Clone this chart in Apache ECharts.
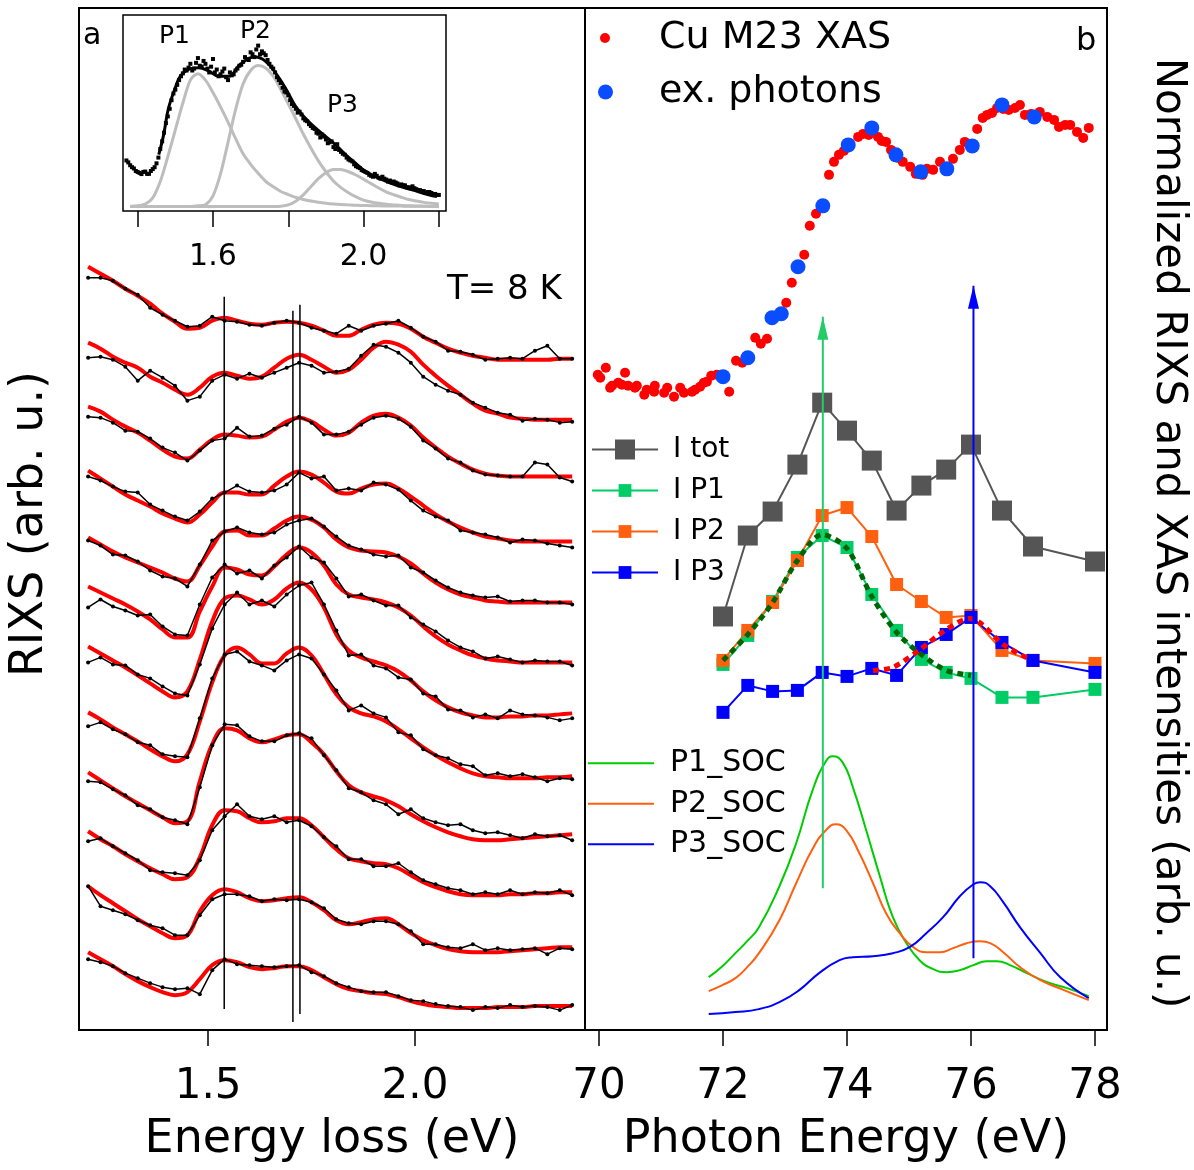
<!DOCTYPE html>
<html>
<head>
<meta charset="utf-8">
<script src="https://cdn.jsdelivr.net/npm/echarts@6/dist/echarts.min.js"></script>
<style>
  html, body { margin: 0; padding: 0; background: #fff; }
  #chart { width: 1194px; height: 1170px; }
</style>
</head>
<body>
<div id="chart"></div>
<script>
// ---- panel a: RIXS spectra (energy loss, eV) ----
const lossGrid = [1.21, 1.24, 1.27, 1.30, 1.33, 1.36, 1.39, 1.42, 1.45, 1.48, 1.51, 1.54, 1.57, 1.60, 1.63, 1.66, 1.69, 1.72, 1.75, 1.78,
  1.81, 1.84, 1.87, 1.90, 1.93, 1.96, 1.99, 2.02, 2.05, 2.08, 2.11, 2.14, 2.17, 2.20, 2.23, 2.26, 2.29, 2.32, 2.35, 2.38]

// fitted curves, top spectrum first (stacked, arb. u.)
const rixsFit = [
  [76.4, 75.7, 75.0, 74.2, 73.5, 72.7, 71.7, 70.9, 70.2, 70.3, 71.0, 71.3, 71.0, 70.7, 70.6, 70.8, 70.9, 70.8, 70.5, 70.0, 69.5, 69.5, 70.1, 70.6, 70.8, 70.7, 70.2, 69.4, 68.8, 68.2, 67.8, 67.5, 67.3, 67.1, 67.1, 67.1, 67.1, 67.1, 67.2, 67.2],
  [68.8, 68.2, 67.4, 66.8, 66.3, 65.4, 64.8, 64.1, 63.6, 64.3, 65.4, 65.8, 65.5, 65.2, 65.4, 66.3, 67.2, 67.6, 67.1, 66.4, 65.8, 66.1, 67.1, 68.3, 68.9, 68.6, 67.9, 66.6, 65.5, 64.5, 63.6, 62.7, 62.0, 61.7, 61.3, 61.2, 61.1, 61.1, 61.1, 61.1],
  [62.4, 61.9, 61.1, 60.4, 59.8, 59.0, 58.1, 57.4, 57.2, 58.1, 59.1, 59.6, 59.5, 59.3, 59.4, 60.1, 60.9, 61.3, 60.9, 60.1, 59.5, 59.8, 60.8, 61.5, 61.7, 61.3, 60.5, 59.3, 58.3, 57.4, 56.7, 56.1, 55.7, 55.5, 55.4, 55.4, 55.4, 55.4, 55.4, 55.4],
  [56.0, 55.2, 54.4, 53.6, 53.0, 52.4, 51.7, 51.2, 50.8, 51.6, 52.8, 53.8, 53.8, 53.6, 53.6, 54.5, 55.4, 55.9, 55.6, 54.8, 53.9, 53.7, 54.2, 54.6, 54.7, 54.2, 53.4, 52.5, 51.6, 50.9, 50.3, 49.8, 49.4, 49.2, 49.0, 48.9, 48.9, 48.9, 48.9, 48.9],
  [49.3, 48.6, 47.9, 47.3, 46.8, 46.3, 45.8, 45.2, 44.9, 46.5, 48.4, 49.9, 50.0, 49.5, 49.5, 50.2, 51.0, 51.4, 51.1, 50.3, 49.1, 48.3, 48.0, 47.9, 47.8, 47.4, 46.7, 45.7, 44.8, 44.1, 43.6, 43.3, 43.0, 42.9, 42.8, 42.8, 42.8, 42.8, 42.8, 42.8],
  [44.4, 43.8, 43.2, 42.6, 41.9, 41.1, 40.1, 39.3, 39.3, 41.9, 44.4, 46.3, 46.1, 45.6, 45.5, 46.4, 47.6, 48.3, 47.8, 46.5, 44.6, 43.6, 43.3, 43.1, 42.8, 42.3, 41.5, 40.4, 39.4, 38.6, 38.0, 37.5, 37.2, 37.0, 36.9, 36.8, 36.8, 36.8, 36.8, 36.8],
  [38.4, 37.7, 37.0, 36.3, 35.5, 34.7, 33.9, 33.3, 33.9, 37.1, 40.9, 43.2, 43.5, 43.1, 42.6, 43.1, 44.2, 44.8, 44.1, 42.3, 39.6, 38.0, 37.3, 36.9, 36.5, 35.9, 35.0, 33.9, 33.0, 32.3, 31.8, 31.5, 31.3, 31.3, 31.4, 31.4, 31.5, 31.5, 31.6, 31.7],
  [31.8, 31.1, 30.3, 29.6, 28.9, 28.1, 27.4, 26.9, 27.6, 30.9, 34.8, 37.5, 38.3, 37.6, 36.7, 36.7, 37.7, 38.3, 37.5, 35.6, 33.6, 32.3, 31.7, 31.4, 30.9, 30.1, 29.2, 28.3, 27.5, 26.8, 26.2, 25.7, 25.4, 25.3, 25.2, 25.2, 25.2, 25.3, 25.3, 25.4],
  [25.8, 25.0, 24.2, 23.4, 22.7, 22.0, 21.3, 20.7, 20.9, 24.9, 28.6, 30.2, 30.0, 29.2, 28.8, 29.1, 29.5, 29.6, 28.8, 27.6, 25.9, 24.5, 23.8, 23.4, 23.0, 22.4, 21.6, 20.9, 20.3, 19.8, 19.4, 19.1, 19.0, 19.0, 19.1, 19.2, 19.3, 19.4, 19.5, 19.6],
  [19.9, 19.1, 18.4, 17.6, 16.9, 16.2, 15.6, 15.1, 15.3, 17.3, 20.5, 22.0, 21.9, 21.2, 20.8, 20.9, 21.2, 21.2, 20.5, 19.3, 18.1, 17.2, 16.9, 16.7, 16.6, 16.2, 15.5, 14.8, 14.3, 13.9, 13.6, 13.5, 13.5, 13.5, 13.6, 13.6, 13.7, 13.7, 13.8, 13.8],
  [14.4, 13.5, 12.7, 11.9, 11.1, 10.4, 9.7, 9.2, 9.5, 11.9, 13.5, 14.1, 13.8, 13.2, 12.9, 13.0, 13.2, 13.3, 12.8, 12.0, 11.0, 10.6, 10.8, 11.1, 11.2, 10.6, 9.7, 9.0, 8.5, 8.1, 7.9, 7.8, 7.8, 7.8, 7.9, 8.0, 8.1, 8.2, 8.3, 8.3],
  [7.8, 7.1, 6.4, 5.6, 4.9, 4.3, 3.8, 3.5, 3.8, 5.1, 6.5, 7.0, 6.8, 6.3, 6.1, 6.2, 6.4, 6.4, 6.0, 5.3, 4.6, 4.1, 3.9, 3.7, 3.6, 3.3, 2.9, 2.6, 2.4, 2.3, 2.2, 2.2, 2.2, 2.3, 2.3, 2.3, 2.4, 2.4, 2.4, 2.4]
]

// measured spectra on the same grid
const rixsData = [
  [75.3, 75.3, 75.0, 74.2, 73.6, 72.3, 71.6, 71.0, 70.4, 70.5, 71.4, 71.0, 70.9, 70.6, 70.5, 70.8, 71.0, 70.8, 70.3, 70.0, 69.7, 70.5, 70.0, 70.5, 70.7, 71.0, 70.3, 69.4, 68.9, 68.0, 67.9, 67.6, 67.1, 67.2, 67.3, 67.2, 68.0, 68.5, 67.2, 67.2],
  [67.3, 67.4, 67.1, 66.4, 65.0, 66.0, 65.3, 64.5, 63.0, 63.4, 65.0, 65.6, 65.2, 65.7, 65.3, 65.8, 66.3, 66.8, 66.5, 65.8, 65.9, 66.2, 67.5, 68.6, 68.4, 67.8, 66.8, 65.4, 64.6, 64.0, 63.6, 62.8, 62.3, 61.8, 61.6, 61.0, 61.2, 61.1, 60.8, 60.9],
  [61.4, 61.3, 60.8, 60.0, 59.9, 59.2, 58.3, 57.8, 57.0, 58.0, 59.0, 59.2, 60.3, 59.4, 59.5, 60.2, 60.6, 61.4, 60.8, 59.6, 59.6, 59.9, 60.6, 61.3, 61.5, 61.2, 60.4, 59.0, 58.2, 57.2, 56.8, 56.0, 55.6, 55.5, 55.4, 55.4, 56.8, 56.6, 55.3, 54.9],
  [55.4, 55.0, 54.4, 53.9, 53.8, 52.6, 52.0, 51.4, 51.0, 51.9, 53.2, 53.8, 54.5, 53.9, 53.8, 54.0, 54.6, 55.8, 55.2, 55.4, 54.0, 54.2, 54.0, 54.8, 54.6, 54.1, 53.0, 52.0, 51.4, 51.0, 50.0, 49.8, 49.6, 49.3, 48.8, 49.1, 49.0, 48.7, 48.5, 48.3],
  [49.0, 48.5, 47.6, 47.5, 46.9, 46.0, 45.4, 45.2, 44.4, 46.6, 49.0, 49.9, 50.3, 49.8, 49.6, 49.8, 50.6, 51.0, 51.2, 50.4, 49.4, 48.5, 48.1, 47.6, 47.4, 47.5, 46.3, 45.8, 45.0, 44.3, 43.8, 43.5, 43.3, 43.4, 42.9, 43.0, 43.0, 42.8, 42.8, 42.6],
  [42.3, 43.1, 42.4, 42.0, 41.5, 41.6, 40.4, 39.6, 39.5, 42.6, 45.3, 46.6, 45.7, 46.0, 45.2, 46.5, 47.3, 48.4, 47.3, 46.8, 45.2, 43.4, 43.6, 43.0, 42.5, 42.5, 41.3, 40.6, 39.9, 39.0, 38.3, 37.9, 37.2, 37.4, 37.1, 36.8, 37.0, 36.9, 36.9, 36.5],
  [36.8, 37.3, 36.6, 36.5, 35.6, 35.2, 34.4, 33.7, 33.5, 36.6, 40.2, 42.6, 43.8, 42.6, 43.0, 42.4, 43.6, 44.5, 44.8, 42.6, 40.0, 37.5, 37.6, 36.5, 36.2, 35.3, 35.1, 33.7, 33.4, 32.1, 32.0, 31.3, 31.6, 31.2, 32.0, 31.6, 31.5, 31.3, 31.0, 31.2],
  [30.4, 30.8, 30.1, 29.6, 28.8, 28.5, 27.6, 27.4, 27.3, 31.2, 35.2, 37.6, 37.9, 36.9, 36.5, 36.0, 37.0, 37.6, 37.2, 35.6, 34.0, 32.0, 32.5, 31.7, 31.3, 29.8, 29.5, 28.1, 27.5, 27.2, 26.6, 26.4, 25.5, 25.7, 25.4, 25.6, 25.3, 24.9, 25.2, 25.1],
  [24.9, 24.8, 24.1, 23.5, 22.5, 22.1, 21.3, 21.0, 20.6, 24.3, 28.5, 30.6, 30.5, 29.4, 28.9, 28.9, 29.5, 29.7, 29.2, 27.5, 26.0, 24.2, 23.8, 23.0, 22.6, 21.6, 22.1, 21.2, 20.8, 20.5, 20.6, 20.0, 19.7, 19.8, 19.5, 19.2, 19.6, 19.4, 19.5, 19.0],
  [18.9, 19.2, 18.4, 17.7, 17.0, 16.0, 15.8, 15.7, 15.5, 17.0, 20.0, 21.4, 22.6, 21.4, 21.1, 21.4, 20.8, 21.0, 20.4, 19.3, 18.4, 17.1, 17.1, 16.4, 16.4, 16.7, 15.8, 15.0, 14.6, 14.2, 14.0, 13.6, 13.8, 13.6, 14.0, 13.6, 13.8, 13.7, 14.0, 13.5],
  [14.4, 12.4, 12.0, 11.6, 11.0, 10.5, 10.2, 9.5, 9.5, 11.5, 13.1, 13.6, 13.6, 13.4, 12.9, 13.1, 13.0, 13.1, 12.8, 12.2, 11.1, 10.7, 10.6, 10.9, 10.9, 10.6, 9.9, 8.6, 8.6, 8.3, 8.2, 8.6, 8.0, 8.2, 8.0, 8.1, 8.2, 7.6, 8.2, 8.1],
  [7.1, 6.8, 6.4, 5.7, 5.2, 4.7, 4.3, 4.1, 4.2, 3.6, 6.0, 7.1, 6.6, 6.5, 6.4, 6.3, 6.4, 6.5, 5.8, 5.4, 4.7, 4.3, 3.9, 3.8, 3.8, 3.4, 3.0, 2.9, 2.6, 2.4, 2.3, 2.0, 2.3, 2.2, 2.5, 2.3, 2.4, 2.3, 2.0, 2.5]
]

// vertical guide lines (eV) and their extent
const markerLoss = [1.539, 1.705, 1.722]
const markerTop = [73.4, 72.0, 72.6]
const markerBottom = [2.1, 0.8, 1.6]

// ---- inset: fitted spectrum ----
const insetE = [1.37, 1.38, 1.39, 1.40, 1.41, 1.42, 1.43, 1.44, 1.45, 1.46, 1.47, 1.48, 1.49, 1.50, 1.51, 1.52, 1.53, 1.54, 1.55, 1.56,
  1.57, 1.58, 1.59, 1.60, 1.61, 1.62, 1.63, 1.64, 1.65, 1.66, 1.67, 1.68, 1.69, 1.70, 1.71, 1.72, 1.73, 1.74, 1.75, 1.76,
  1.77, 1.78, 1.79, 1.80, 1.81, 1.82, 1.83, 1.84, 1.85, 1.86, 1.87, 1.88, 1.89, 1.90, 1.91, 1.92, 1.93, 1.94, 1.95, 1.96,
  1.97, 1.98, 1.99, 2.00, 2.01, 2.02, 2.03, 2.04, 2.05, 2.06, 2.07, 2.08, 2.09, 2.10, 2.11, 2.12, 2.13, 2.14, 2.15, 2.16,
  2.17, 2.18, 2.19, 2.20]
const insetI = [24.0, 21.5, 19.8, 18.0, 16.9, 18.2, 17.0, 19.5, 22.5, 30.0, 38.5, 47.0, 55.5, 61.0, 66.0, 69.5, 71.0, 74.5, 72.0, 77.5,
  73.0, 74.5, 70.0, 77.0, 71.5, 69.0, 72.0, 66.0, 68.5, 71.0, 73.5, 75.5, 77.0, 80.5, 78.0, 84.0, 81.0, 79.0, 74.5, 72.0,
  67.5, 64.5, 60.0, 58.0, 53.5, 51.0, 49.5, 46.0, 44.5, 42.0, 40.5, 38.0, 37.5, 35.0, 33.5, 31.0, 32.5, 28.5, 27.0, 24.5,
  23.5, 21.0, 20.0, 18.5, 17.5, 16.0, 17.0, 15.0, 15.5, 14.0, 13.5, 13.0, 12.0, 11.5, 11.0, 10.0, 10.5, 9.0, 8.5, 8.0,
  7.5, 7.0, 6.5, 6.0]
// second pass of points, offset by half a step
const insetE2 = [1.375, 1.385, 1.395, 1.405, 1.415, 1.425, 1.435, 1.445, 1.455, 1.465, 1.475, 1.485, 1.495, 1.505, 1.515, 1.525, 1.535, 1.545, 1.555, 1.565,
  1.575, 1.585, 1.595, 1.605, 1.615, 1.625, 1.635, 1.645, 1.655, 1.665, 1.675, 1.685, 1.695, 1.705, 1.715, 1.725, 1.735, 1.745, 1.755, 1.765,
  1.775, 1.785, 1.795, 1.805, 1.815, 1.825, 1.835, 1.845, 1.855, 1.865, 1.875, 1.885, 1.895, 1.905, 1.915, 1.925, 1.935, 1.945, 1.955, 1.965,
  1.975, 1.985, 1.995, 2.005, 2.015, 2.025, 2.035, 2.045, 2.055, 2.065, 2.075, 2.085, 2.095, 2.105, 2.115, 2.125, 2.135, 2.145, 2.155, 2.165,
  2.175, 2.185, 2.195]
const insetI2 = [23.0, 20.5, 18.5, 17.5, 18.0, 17.0, 18.5, 20.5, 25.5, 34.0, 43.5, 51.0, 59.0, 63.5, 68.0, 71.5, 72.5, 71.0, 75.0, 73.5,
  76.0, 72.0, 73.0, 70.0, 68.0, 70.5, 67.5, 70.0, 69.0, 72.0, 74.0, 78.0, 76.5, 79.5, 82.0, 79.5, 80.0, 76.5, 73.0, 70.0,
  66.0, 62.0, 59.5, 55.5, 52.5, 49.0, 48.0, 45.0, 43.0, 41.0, 38.5, 36.0, 36.5, 33.0, 34.0, 30.0, 29.5, 27.5, 25.5, 24.0,
  22.0, 20.5, 19.0, 18.0, 16.5, 15.5, 16.0, 14.5, 14.5, 13.0, 12.5, 12.5, 11.0, 11.0, 10.0, 9.5, 9.5, 8.5, 8.0, 7.0,
  7.5, 6.5, 6.0]
const insetFitE = [1.456, 1.469, 1.482, 1.500, 1.513, 1.535, 1.562, 1.589, 1.615, 1.642, 1.668, 1.695, 1.713, 1.739, 1.766,
  1.792, 1.819, 1.845, 1.872, 1.899, 1.925, 1.952, 1.978, 2.005, 2.040, 2.084, 2.129, 2.173, 2.195]
const insetFitI = [27.0, 37.5, 51.5, 62.0, 68.0, 71.6, 72.4, 70.7, 68.0, 68.0, 73.3, 77.3, 78.0, 75.9, 69.8,
  62.0, 52.4, 46.2, 41.0, 36.6, 32.3, 27.0, 22.7, 18.3, 14.8, 11.3, 8.7, 6.1, 5.2]
// peak components on a common grid
const compE = [1.38, 1.40, 1.42, 1.44, 1.46, 1.48, 1.50, 1.52, 1.54, 1.56, 1.58, 1.60, 1.62, 1.64, 1.66, 1.68, 1.70, 1.72, 1.74, 1.76, 1.78,
  1.80, 1.82, 1.84, 1.86, 1.88, 1.90, 1.92, 1.94, 1.96, 1.98, 2.00, 2.02, 2.04, 2.06, 2.08, 2.10, 2.12, 2.14, 2.16, 2.18, 2.20]
const compP1 = [0, 0.3, 1.2, 4.5, 13, 26, 40, 54, 66, 69.3, 66, 59.5, 52, 44, 35.5, 27.5, 22.0, 17.3, 13.1, 10.3, 7.8,
  6.2, 4.7, 3.6, 2.8, 2.2, 1.7, 1.3, 1.0, 0.8, 0.6, 0.5, 0.4, 0.3, 0.25, 0.2, 0.15, 0.1, 0.1, 0.05, 0, 0]
const compP2 = [0, 0, 0, 0, 0, 0, 0, 0, 0, 0.3, 0.9, 5.5, 17, 33.5, 50.5, 64, 71, 73.6, 72.3, 68, 61.1,
  53.6, 45.8, 37.8, 30.5, 23.8, 18.1, 13.3, 9.8, 7.1, 5.0, 3.3, 2.3, 1.6, 1.1, 0.8, 0.5, 0.3, 0.2, 0.1, 0, 0]
const compP3 = [0, 0, 0, 0, 0, 0, 0, 0, 0, 0, 0, 0, 0, 0, 0, 0, 0, 0, 0, 0, 0.1,
  0.8, 2.7, 6.0, 10.3, 14.5, 17.6, 19.3, 19.3, 18.1, 16.4, 14.2, 11.9, 9.6, 7.6, 6.1, 4.8, 3.6, 2.8, 2.1, 1.6, 1.2]

// ---- panel b: XAS and intensities vs photon energy ----
const xasE = [69.98, 70.02, 70.11, 70.18, 70.21, 70.31, 70.37, 70.42, 70.47, 70.58, 70.61, 70.73, 70.77, 70.89, 70.90, 71.05, 71.10, 71.21, 71.31, 71.37,
  71.50, 71.55, 71.63, 71.69, 71.74, 71.81, 71.90, 72.10, 72.21, 72.31, 72.52, 72.61, 72.71, 73.02, 73.11, 73.31, 73.40, 73.50, 73.71, 73.79,
  73.87, 74.18, 74.26, 74.50, 74.63, 74.71, 74.90, 75.02, 75.11, 75.29, 75.39, 75.50, 75.71, 75.82, 75.90, 76.10, 76.19, 76.34, 76.42, 76.61,
  76.71, 76.79, 76.87, 77.11, 77.23, 77.34, 77.42, 77.52, 77.60, 77.71, 77.81, 77.90, 73.95, 74.35, 74.56, 74.82, 75.22, 76.26, 76.52, 76.97]
const xasI = [65.6, 65.3, 66.3, 64.3, 64.5, 64.8, 64.6, 65.8, 64.5, 64.3, 64.5, 63.6, 64.1, 63.9, 64.5, 63.8, 64.3, 63.4, 64.3, 63.8,
  63.9, 64.1, 64.4, 64.8, 64.9, 65.5, 65.6, 63.9, 67.0, 66.8, 69.3, 68.7, 69.2, 72.8, 74.8, 77.6, 80.5, 81.7, 85.6, 86.9,
  87.6, 89.4, 89.7, 89.4, 88.9, 88.1, 86.9, 86.4, 85.7, 86.2, 86.1, 86.9, 87.2, 88.1, 88.9, 90.2, 91.3, 91.8, 92.3, 92.1,
  92.3, 92.6, 91.6, 91.9, 91.4, 91.1, 90.4, 90.6, 90.6, 89.9, 89.3, 90.3, 88.0, 89.6, 89.0, 87.3, 85.6, 91.6, 92.2, 91.7]
const exXasE = [72.00, 72.40, 72.79, 72.94, 73.21, 73.61, 74.02, 74.40, 74.79, 75.19, 75.61, 76.02, 76.50, 77.02]
const exXasI = [65.4, 67.3, 71.3, 71.7, 76.4, 82.5, 88.6, 90.3, 87.6, 85.9, 86.2, 88.5, 92.6, 91.4]

const photonE = [72.0, 72.4, 72.8, 73.2, 73.6, 74.0, 74.4, 74.8, 75.2, 75.6, 76.0, 76.5, 77.0, 78.0]
const iTot = [41.4, 49.5, 51.9, 56.6, 62.8, 60.0, 57.0, 52.0, 54.5, 56.1, 58.6, 52.0, 48.4, 46.9]
const iP1 = [36.6, 39.5, 42.9, 47.3, 49.5, 48.3, 43.6, 40.0, 37.1, 35.8, 35.2, 33.3, 33.3, 34.1]
const iP2 = [37.0, 40.0, 42.8, 47.0, 51.5, 52.3, 49.4, 44.6, 42.9, 41.3, 41.5, 38.0, 37.0, 36.7]
const iP3 = [31.8, 34.5, 33.9, 34.0, 35.8, 35.4, 36.2, 35.5, 38.3, 39.6, 41.3, 38.8, 37.0, 35.8]

// guide curves through P1 and P3
const guideP1E = [72.0, 72.4, 72.8, 73.2, 73.6, 74.0, 74.4, 74.8, 75.2, 75.6, 76.0]
const guideP1I = [37.0, 39.6, 42.8, 47.0, 49.6, 48.2, 43.4, 39.8, 37.6, 36.0, 35.5]
const guideP3E = [74.42, 74.74, 75.18, 75.58, 75.98, 76.14, 76.52, 76.95]
const guideP3I = [36.0, 36.3, 38.1, 40.0, 41.2, 40.8, 38.6, 37.1]

// spin-orbit calculations
const socE1 = [71.77, 71.99, 72.20, 72.39, 72.58, 72.91, 73.18, 73.45, 73.66, 73.77, 73.93, 74.09, 74.31, 74.53, 74.74, 74.96, 75.17, 75.39, 75.61, 75.82, 76.04, 76.25, 76.42, 76.63, 76.90, 77.23, 77.55, 77.90]
const socP1 = [5.3, 6.4, 7.7, 8.9, 10.3, 14.4, 18.7, 24.1, 26.9, 27.4, 26.8, 24.4, 20.0, 15.4, 11.3, 8.7, 7.0, 6.1, 5.8, 6.0, 6.5, 6.9, 6.9, 6.5, 5.7, 4.8, 4.2, 3.4]
const socE2 = [71.77, 71.99, 72.20, 72.39, 72.58, 72.91, 73.18, 73.45, 73.66, 73.82, 73.99, 74.20, 74.42, 74.63, 74.85, 75.07, 75.28, 75.50, 75.71, 75.93, 76.15, 76.31, 76.52, 76.79, 77.12, 77.50, 77.90]
const socP2 = [3.9, 4.5, 5.2, 6.3, 7.7, 11.0, 14.7, 18.2, 20.0, 20.6, 20.0, 17.7, 14.7, 11.7, 9.7, 8.3, 7.8, 7.8, 8.2, 8.7, 8.9, 8.7, 7.8, 6.3, 5.0, 4.0, 3.0]
const socE3 = [71.77, 72.20, 72.58, 72.91, 73.23, 73.55, 73.88, 74.09, 74.42, 74.74, 75.01, 75.28, 75.55, 75.82, 76.04, 76.15, 76.31, 76.52, 76.79, 77.12, 77.44, 77.90]
const socP3 = [1.6, 1.8, 2.1, 2.8, 4.0, 5.7, 7.0, 7.3, 7.4, 7.7, 8.3, 9.7, 11.3, 13.4, 14.6, 14.8, 14.4, 12.8, 10.3, 7.7, 5.3, 3.2]

// arrows marking the two resonances
const arrowE = [73.61, 76.04]
const arrowFrom = [14.2, 7.2]
const arrowTo = [71.4, 74.5]

const FONT = '"DejaVu Sans", sans-serif'
const pair = (xs, ys) => xs.map((x, i) => [x, ys[i]])

function bottomAxis(grid, min, max, ticks, labels, name, fontSize) {
  return {
    type: 'value', gridIndex: grid, min: min, max: max,
    name: name, nameLocation: 'middle', nameGap: 84,
    nameTextStyle: { fontSize: 46, lineHeight: 50, fontFamily: FONT, color: '#000' },
    axisLine: { show: false, onZero: false },
    axisTick: { show: true, length: 16, customValues: ticks, lineStyle: { color: '#000', width: 1.5 } },
    axisLabel: { customValues: labels, margin: 34, fontSize: fontSize, lineHeight: 46, fontFamily: FONT, color: '#000',
      formatter: v => (max > 10) ? String(v) : v.toFixed(1) },
    splitLine: { show: false }
  }
}

function hiddenY(grid, min, max, extra) {
  return Object.assign({
    type: 'value', gridIndex: grid, min: min, max: max,
    axisLine: { show: false, onZero: false }, axisTick: { show: false },
    axisLabel: { show: false }, splitLine: { show: false }
  }, extra || {})
}

const series = []

// panel a
rixsFit.forEach(fit => {
  series.push({
    type: 'line', xAxisIndex: 0, yAxisIndex: 0, data: pair(lossGrid, fit),
    smooth: 0.4, showSymbol: false, lineStyle: { color: '#ff0000', width: 4 }, z: 2, silent: true
  })
})
rixsData.forEach(d => {
  series.push({
    type: 'line', xAxisIndex: 0, yAxisIndex: 0, data: pair(lossGrid, d),
    symbol: 'circle', symbolSize: 4, showSymbol: true,
    lineStyle: { color: '#000', width: 1.5 }, itemStyle: { color: '#000' }, z: 3, silent: true
  })
})
markerLoss.forEach((x, i) => {
  series.push({
    type: 'line', xAxisIndex: 0, yAxisIndex: 0, data: [[x, markerBottom[i]], [x, markerTop[i]]],
    showSymbol: false, lineStyle: { color: '#000', width: 1.5 }, z: 4, silent: true
  })
})

// inset
;[compP1, compP2, compP3].forEach(ys => {
  series.push({
    type: 'line', xAxisIndex: 2, yAxisIndex: 2, data: pair(compE, ys), smooth: 0.3,
    showSymbol: false, lineStyle: { color: '#bdbdbd', width: 3 }, z: 5, silent: true
  })
})
series.push({
  type: 'line', xAxisIndex: 2, yAxisIndex: 2, data: pair(insetFitE, insetFitI), smooth: 0.4,
  showSymbol: false, lineStyle: { color: '#000', width: 3 }, z: 6, silent: true
})
;[[insetE, insetI], [insetE2, insetI2]].forEach(([xs, ys]) => {
  series.push({
    type: 'scatter', xAxisIndex: 2, yAxisIndex: 2, data: pair(xs, ys),
    symbol: 'rect', symbolSize: 4, itemStyle: { color: '#000', opacity: 1 }, z: 7, silent: true
  })
})

// panel b
series.push({
  name: 'Cu M23 XAS', type: 'scatter', xAxisIndex: 1, yAxisIndex: 1, data: pair(xasE, xasI),
  symbolSize: 10, itemStyle: { color: '#ff0000', opacity: 1 }, z: 5, silent: true
})
series.push({
  name: 'ex. photons', type: 'scatter', xAxisIndex: 1, yAxisIndex: 1, data: pair(exXasE, exXasI),
  symbolSize: 15, itemStyle: { color: '#0a4cff', opacity: 1 }, z: 6, silent: true
})
series.push({
  name: 'I tot', type: 'line', xAxisIndex: 1, yAxisIndex: 1, data: pair(photonE, iTot),
  symbol: 'rect', symbolSize: 20, lineStyle: { color: '#555555', width: 2 }, itemStyle: { color: '#555555' }, z: 5, silent: true
})
series.push({
  name: 'I P1', type: 'line', xAxisIndex: 1, yAxisIndex: 1, data: pair(photonE, iP1),
  symbol: 'rect', symbolSize: 13, lineStyle: { color: '#00cc66', width: 2 }, itemStyle: { color: '#00cc66' }, z: 5, silent: true
})
series.push({
  name: 'I P2', type: 'line', xAxisIndex: 1, yAxisIndex: 1, data: pair(photonE, iP2),
  symbol: 'rect', symbolSize: 13, lineStyle: { color: '#ff6010', width: 2 }, itemStyle: { color: '#ff6010' }, z: 5, silent: true
})
series.push({
  name: 'I P3', type: 'line', xAxisIndex: 1, yAxisIndex: 1, data: pair(photonE, iP3),
  symbol: 'rect', symbolSize: 13, lineStyle: { color: '#0000ff', width: 2 }, itemStyle: { color: '#0000ff' }, z: 6, silent: true
})
series.push({
  type: 'line', xAxisIndex: 1, yAxisIndex: 1, data: pair(guideP1E, guideP1I), smooth: 0.3, showSymbol: false,
  lineStyle: { color: '#006400', width: 5, type: [6, 5] }, z: 8, silent: true
})
series.push({
  type: 'line', xAxisIndex: 1, yAxisIndex: 1, data: pair(guideP3E, guideP3I), smooth: 0.3, showSymbol: false,
  lineStyle: { color: '#ff0000', width: 5, type: [6, 5] }, z: 8, silent: true
})
series.push({
  name: 'P1_SOC', type: 'line', xAxisIndex: 1, yAxisIndex: 1, data: pair(socE1, socP1), smooth: 0.5, symbol: 'none',
  lineStyle: { color: '#00cc00', width: 2 }, itemStyle: { color: '#00cc00' }, z: 5, silent: true
})
series.push({
  name: 'P2_SOC', type: 'line', xAxisIndex: 1, yAxisIndex: 1, data: pair(socE2, socP2), smooth: 0.5, symbol: 'none',
  lineStyle: { color: '#ff6010', width: 2 }, itemStyle: { color: '#ff6010' }, z: 5, silent: true
})
series.push({
  name: 'P3_SOC', type: 'line', xAxisIndex: 1, yAxisIndex: 1, data: pair(socE3, socP3), smooth: 0.5, symbol: 'none',
  lineStyle: { color: '#0000ff', width: 2 }, itemStyle: { color: '#0000ff' }, z: 5, silent: true
})
const arrowColors = ['#22cc66', '#0000ff']
arrowE.forEach((x, i) => {
  series.push({
    type: 'line', xAxisIndex: 1, yAxisIndex: 1, showSymbol: true,
    data: [
      { value: [x, arrowFrom[i]], symbol: 'none' },
      { value: [x, arrowTo[i]], symbol: 'triangle', symbolSize: [11, 23], symbolOffset: [0, '50%'] }
    ],
    lineStyle: { color: arrowColors[i], width: 2 }, itemStyle: { color: arrowColors[i] }, z: 9, silent: true
  })
})

const legendBase = { orient: 'vertical', padding: 0, itemGap: 0, selectedMode: false }

const option = {
  animation: false,
  backgroundColor: '#ffffff',
  textStyle: { fontFamily: FONT, color: '#000' },
  grid: [
    { left: 79, top: 8, width: 506, height: 1023, show: true, borderColor: '#000', borderWidth: 2, backgroundColor: 'transparent' },
    { left: 585, top: 8, width: 522, height: 1023, show: true, borderColor: '#000', borderWidth: 2, backgroundColor: 'transparent' },
    { left: 123, top: 15, width: 323, height: 196, show: true, borderColor: '#000', borderWidth: 1.5, backgroundColor: '#fff' }
  ],
  xAxis: [
    bottomAxis(0, 1.188, 2.411, [1.5, 2.0], [1.5, 2.0], 'Energy loss (eV)', 42),
    bottomAxis(1, 69.774, 78.194, [70, 72, 74, 76, 78], [70, 72, 74, 76, 78], 'Photon Energy (eV)', 42),
    {
      type: 'value', gridIndex: 2, min: 1.361, max: 2.219,
      axisLine: { show: false, onZero: false },
      axisTick: { show: true, length: 16, customValues: [1.4, 1.6, 1.8, 2.0, 2.2], lineStyle: { color: '#000', width: 1.5 } },
      axisLabel: { customValues: [1.6, 2.0], margin: 29, fontSize: 30, lineHeight: 34, fontFamily: FONT, color: '#000',
        formatter: v => v.toFixed(1) },
      splitLine: { show: false }
    }
  ],
  yAxis: [
    hiddenY(0, 0, 102.3, {
      name: 'RIXS (arb. u.)', nameLocation: 'middle', nameGap: 24, nameRotate: 90,
      nameTextStyle: { fontSize: 46, lineHeight: 50, fontFamily: FONT, color: '#000', padding: [0, 10, 0, 0] }
    }),
    hiddenY(1, 0, 102.3, {
      position: 'right',
      name: 'Normalized RIXS and XAS intensities (arb. u.)', nameLocation: 'middle', nameGap: 38, nameRotate: -90,
      nameTextStyle: { fontSize: 42, lineHeight: 46, fontFamily: FONT, color: '#000', padding: [0, 0, 0, 28] }
    }),
    hiddenY(2, -2.4, 100)
  ],
  legend: [
    Object.assign({}, legendBase, { data: ['Cu M23 XAS'], left: 600, top: 16, itemWidth: 10, itemHeight: 10,
      textStyle: { fontSize: 38, lineHeight: 44, fontFamily: FONT, color: '#000', padding: [0, 0, 0, 44] } }),
    Object.assign({}, legendBase, { data: ['ex. photons'], left: 598, top: 70, itemWidth: 15, itemHeight: 15,
      textStyle: { fontSize: 38, lineHeight: 44, fontFamily: FONT, color: '#000', padding: [0, 0, 0, 41] } }),
    Object.assign({}, legendBase, { data: ['I tot'], left: 591, top: 429, itemWidth: 66, itemHeight: 25,
      textStyle: { fontSize: 28, lineHeight: 41, fontFamily: FONT, color: '#000', padding: [0, 0, 0, 10] } }),
    Object.assign({}, legendBase, { data: ['I P1', 'I P2', 'I P3'], left: 591, top: 470, itemWidth: 66, itemHeight: 16,
      textStyle: { fontSize: 28, lineHeight: 41, fontFamily: FONT, color: '#000', padding: [0, 0, 0, 10] } }),
    Object.assign({}, legendBase, {
      data: [{ name: 'P1_SOC', icon: 'rect' }, { name: 'P2_SOC', icon: 'rect' }, { name: 'P3_SOC', icon: 'rect' }],
      left: 588, top: 743, itemWidth: 66, itemHeight: 2,
      textStyle: { fontSize: 30, lineHeight: 40.5, fontFamily: FONT, color: '#000', padding: [0, 0, 0, 11] } })
  ],
  graphic: [
    { type: 'text', x: 83, y: 36, style: { text: 'a', font: '30px ' + FONT, fill: '#000', verticalAlign: 'middle' } },
    { type: 'text', x: 159, y: 36, style: { text: 'P1', font: '25px ' + FONT, fill: '#000', verticalAlign: 'middle' } },
    { type: 'text', x: 240, y: 31, style: { text: 'P2', font: '25px ' + FONT, fill: '#000', verticalAlign: 'middle' } },
    { type: 'text', x: 327, y: 105, style: { text: 'P3', font: '25px ' + FONT, fill: '#000', verticalAlign: 'middle' } },
    { type: 'text', x: 447, y: 290, style: { text: 'T= 8 K', font: '34px ' + FONT, fill: '#000', verticalAlign: 'middle' } },
    { type: 'text', x: 1076, y: 42, style: { text: 'b', font: '32px ' + FONT, fill: '#000', verticalAlign: 'middle' } }
  ],
  series: series
}

const chart = echarts.init(document.getElementById('chart'))
chart.setOption(option)
</script>
</body>
</html>
